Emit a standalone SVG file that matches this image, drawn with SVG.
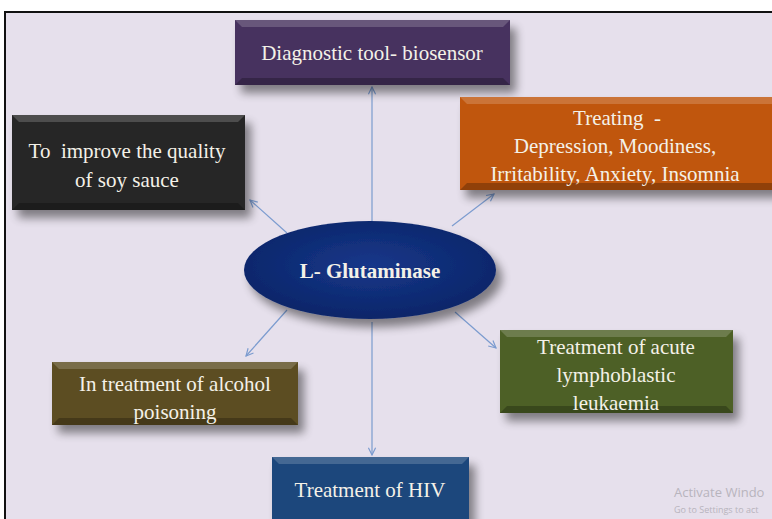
<svg xmlns="http://www.w3.org/2000/svg" width="772" height="519" viewBox="0 0 772 519">
<defs>
<filter id="sh" x="-20%" y="-20%" width="150%" height="160%">
<feGaussianBlur in="SourceAlpha" stdDeviation="5"/>
<feOffset dx="6" dy="8" result="b"/>
<feComponentTransfer><feFuncA type="linear" slope="0.45"/></feComponentTransfer>
<feMerge><feMergeNode/><feMergeNode in="SourceGraphic"/></feMerge>
</filter>
<radialGradient id="eg" cx="50%" cy="45%" r="60%">
<stop offset="0" stop-color="#16378a"/>
<stop offset="1" stop-color="#0b2466"/>
</radialGradient>
<marker id="ah" viewBox="0 0 10 10" refX="9" refY="5" markerWidth="9" markerHeight="9" orient="auto" markerUnits="userSpaceOnUse">
<path d="M1,1 L9,5 L1,9" fill="none" stroke="#7b9bcf" stroke-width="1.3"/>
</marker>
</defs>
<style>
.t{font-family:"Liberation Serif","Times New Roman",serif;font-size:21px;fill:#f4f1e8;text-anchor:middle;white-space:pre}
.b{font-weight:bold}
.c{stroke:#7b9bcf;stroke-width:1.2;fill:none;marker-end:url(#ah)}
.hl{fill:#ffffff;opacity:0.18}
.dk{fill:#000000;opacity:0.25}
.wm{font-family:"Segoe UI","Open Sans","Liberation Sans",sans-serif;fill:#b8b4bd}
</style>
<rect width="772" height="519" fill="#ffffff"/>
<rect x="5" y="12" width="770" height="510" fill="#e6e0ec" stroke="#111" stroke-width="2"/>

<g id="connectors">
<line class="c" x1="372" y1="222" x2="372" y2="87"/>
<line class="c" x1="452" y1="226" x2="494" y2="194"/>
<line class="c" x1="287" y1="233" x2="250" y2="200"/>
<line class="c" x1="287" y1="310" x2="246" y2="356"/>
<line class="c" x1="455" y1="312" x2="496" y2="348"/>
<line class="c" x1="372" y1="322" x2="372" y2="455"/>
</g>

<g id="diagnostic">
<g filter="url(#sh)"><rect x="235" y="20" width="275" height="65" fill="#46325e"/></g>
<polygon class="hl" points="235,20 510,20 503,27 242,27"/>
<polygon class="dk" points="235,85 510,85 503,78 242,78"/>
<text class="t" x="372" y="60">Diagnostic tool- biosensor</text>
</g>

<g id="treating">
<g filter="url(#sh)"><rect x="460" y="97" width="320" height="93" fill="#c0560f"/></g>
<polygon class="hl" points="460,97 780,97 773,104 467,104"/>
<polygon class="dk" points="460,190 780,190 773,183 467,183"/>
<text class="t" x="617" y="125">Treating  -</text>
<text class="t" x="615" y="153">Depression, Moodiness,</text>
<text class="t" x="615" y="181">Irritability, Anxiety, Insomnia</text>
</g>

<g id="soy">
<g filter="url(#sh)"><rect x="12" y="115" width="233" height="95" fill="#262626"/></g>
<polygon class="hl" points="12,115 245,115 238,122 19,122"/>
<polygon class="dk" points="12,210 245,210 238,203 19,203"/>
<text class="t" x="127" y="158">To  improve the quality</text>
<text class="t" x="127" y="187">of soy sauce</text>
</g>

<g id="center">
<g filter="url(#sh)"><ellipse cx="370" cy="270" rx="126" ry="49" fill="url(#eg)"/></g>
<text class="t b" x="370" y="278">L- Glutaminase</text>
</g>

<g id="alcohol">
<g filter="url(#sh)"><rect x="52" y="362" width="246" height="63" fill="#5b4e21"/></g>
<polygon class="hl" points="52,362 298,362 291,369 59,369"/>
<polygon class="dk" points="52,425 298,425 291,418 59,418"/>
<text class="t" x="175" y="391">In treatment of alcohol</text>
<text class="t" x="175" y="419">poisoning</text>
</g>

<g id="leukaemia">
<g filter="url(#sh)"><rect x="500" y="330" width="233" height="83" fill="#4e6127"/></g>
<polygon class="hl" points="500,330 733,330 726,337 507,337"/>
<polygon class="dk" points="500,413 733,413 726,406 507,406"/>
<text class="t" x="616" y="354">Treatment of acute</text>
<text class="t" x="616" y="382">lymphoblastic</text>
<text class="t" x="616" y="410">leukaemia</text>
</g>

<g id="hiv">
<g filter="url(#sh)"><rect x="272" y="457" width="197" height="70" fill="#1d477b"/></g>
<polygon class="hl" points="272,457 469,457 462,464 279,464"/>
<text class="t" x="370" y="497">Treatment of HIV</text>
</g>

<text class="wm" x="674" y="497" font-size="13">Activate Windo</text>
<text class="wm" x="674" y="513" font-size="9">Go to Settings to act</text>
</svg>
